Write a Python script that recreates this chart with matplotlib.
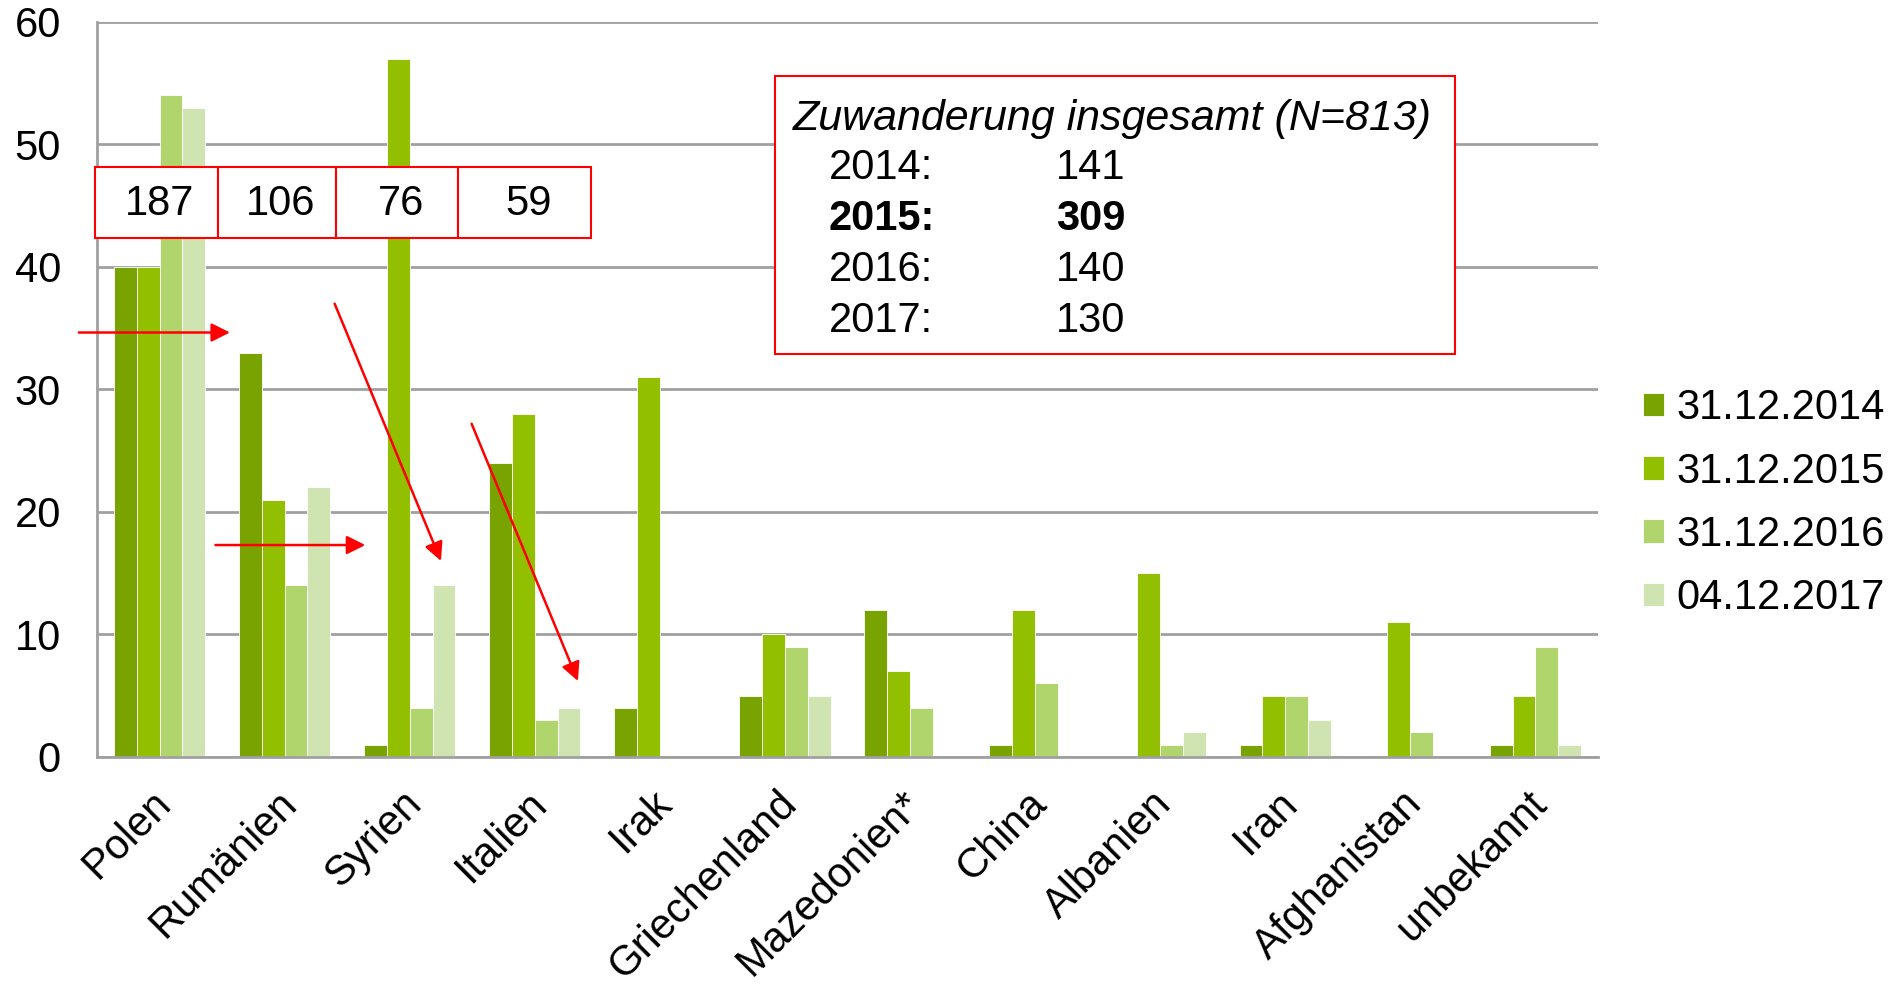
import matplotlib.pyplot as plt
import numpy as np
from matplotlib.patches import Rectangle
from matplotlib import transforms

plt.rcParams['font.family'] = ['Liberation Sans', 'DejaVu Sans']

# Daten
laender = ["Polen", "Rumänien", "Syrien", "Italien", "Irak", "Griechenland",
           "Mazedonien*", "China", "Albanien", "Iran", "Afghanistan", "unbekannt"]
w2014 = [40, 33, 1, 24, 4, 5, 12, 1, 0, 1, 0, 1]
w2015 = [40, 21, 57, 28, 31, 10, 7, 12, 15, 5, 11, 5]
w2016 = [54, 14, 4, 3, 0, 9, 4, 6, 1, 5, 2, 9]
w2017 = [53, 22, 14, 4, 0, 5, 0, 0, 2, 3, 0, 1]
stichtage = ["31.12.2014", "31.12.2015", "31.12.2016", "04.12.2017"]
farben = ["#78A300", "#92C000", "#B0D56C", "#CFE4B0"]

box_werte = ["187", "106", "76", "59"]
jahre = ["2014:", "2015:", "2016:", "2017:"]
gesamt = ["141", "309", "140", "130"]

fs = 30

fig = plt.figure(figsize=(18.95, 9.85), dpi=100)
ax = fig.add_axes([0.0512, 0.2315, 0.792, 0.7462])

x = np.arange(len(laender))
b = 0.1825
for i, werte in enumerate([w2014, w2015, w2016, w2017]):
    ax.bar(x + (i - 1.5) * b, werte, width=b, color=farben[i],
           edgecolor="white", linewidth=0.6, label=stichtage[i], zorder=2)

ax.set_xlim(-0.5, len(laender) - 0.5)
ax.set_ylim(0, 60)
ax.set_yticks(range(0, 61, 10))
ax.yaxis.grid(True, color="#A0A0A0", linewidth=2)
ax.set_axisbelow(True)
for s in ["top", "right"]:
    ax.spines[s].set_visible(False)
ax.spines["left"].set_color("#A0A0A0")
ax.spines["bottom"].set_color("#A0A0A0")
ax.spines["left"].set_linewidth(2)
ax.spines["bottom"].set_linewidth(2)
ax.tick_params(axis="y", length=0, pad=26, labelsize=fs)
ax.tick_params(axis="x", length=0, pad=19, labelsize=fs)
ax.set_xticks(x)
ax.set_xticklabels(laender, rotation=45, ha="right", va="top", rotation_mode="anchor")
off = transforms.ScaledTranslation(-6 / 72, 0, fig.dpi_scale_trans)
for lab in ax.get_xticklabels():
    lab.set_transform(lab.get_transform() + off)

# rote Kästchen mit Summen
kanten = [-0.52, 0.466, 1.41, 2.39, 3.45]
for k in range(4):
    ax.add_patch(Rectangle((kanten[k], 42.35), kanten[k + 1] - kanten[k], 5.85,
                           facecolor="white", edgecolor="red", linewidth=1.5,
                           zorder=4, clip_on=False))
    ax.text((kanten[k] + kanten[k + 1]) / 2 + 0.03, 45.1, box_werte[k], fontsize=fs,
            ha="center", va="center", zorder=5)

# Pfeile
pfeile = [((-0.645, 34.65), (0.563, 34.65)),
          ((0.447, 17.3), (1.645, 17.3)),
          ((1.40, 37.0), (2.25, 16.0)),
          ((2.495, 27.2), (3.345, 6.2))]
for start, ende in pfeile:
    ax.annotate("", xy=ende, xytext=start, annotation_clip=False, zorder=6,
                arrowprops=dict(arrowstyle="-|>", color="red", lw=1.8,
                                mutation_scale=28, shrinkA=0, shrinkB=0))

# Infobox
ax.add_patch(Rectangle((4.92, 32.9), 5.44, 22.7, facecolor="white",
                       edgecolor="red", linewidth=1.5, zorder=4))
ax.text(5.06, 52.1, "Zuwanderung insgesamt (N=813)", fontsize=fs + 1,
        style="italic", ha="left", va="center", zorder=5)
for j in range(4):
    gewicht = "bold" if j == 1 else "normal"
    yy = 48.1 - j * 4.17
    ax.text(5.35, yy, jahre[j], fontsize=fs, fontweight=gewicht, ha="left",
            va="center", zorder=5)
    ax.text(7.17, yy, gesamt[j], fontsize=fs, fontweight=gewicht, ha="left",
            va="center", zorder=5)

leg = ax.legend(loc="center left", bbox_to_anchor=(1.005, 0.345), frameon=False,
                fontsize=fs, handlelength=0.5, handleheight=0.5,
                handletextpad=0.3, labelspacing=0.56)

fig.savefig("out.png", dpi=100)
